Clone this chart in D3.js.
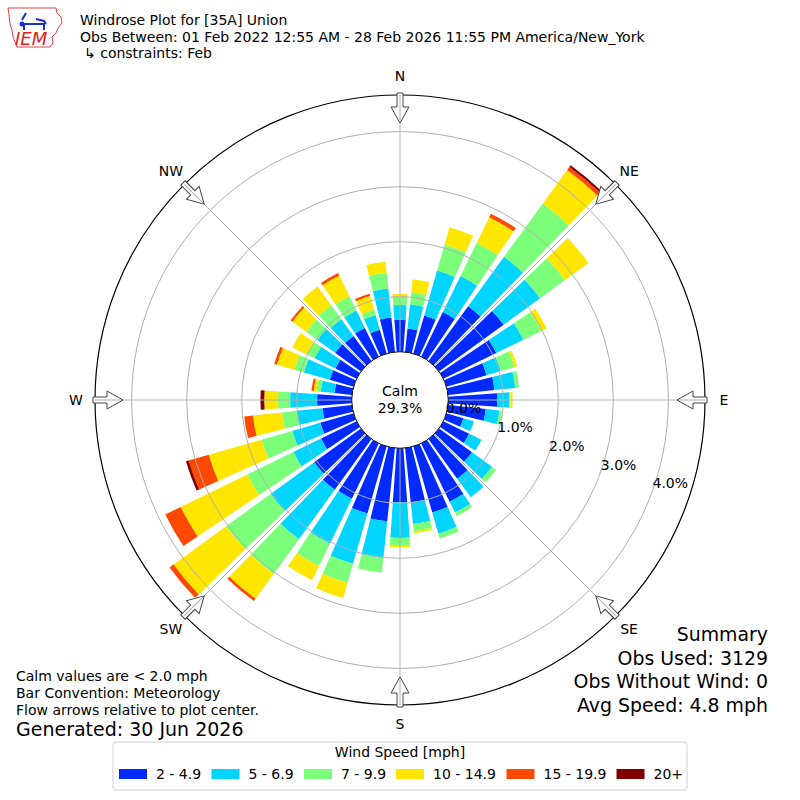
<!DOCTYPE html>
<html>
<head>
<meta charset="utf-8">
<script src="https://d3js.org/d3.v7.min.js"></script>
<style>
  body { margin: 0; background: #fff; }
  text { font-family: "DejaVu Sans", sans-serif; }
</style>
</head>
<body>
<div id="container"></div>
<script>
// wind directions (degrees, 10 degree sectors)
let directions = d3.range(0, 360, 10);

// speed bins
let speedBins = ["2 - 4.9", "5 - 6.9", "7 - 9.9", "10 - 14.9", "15 - 19.9", "20+"];
let binColors = ["#002aff", "#00d4ff", "#7bff7b", "#ffe600", "#ff4800", "#800000"];

// percent of observations per direction, one array per speed bin
let bin2to5 = [0.58, 0.43, 0.72, 0.90, 1.23, 1.45, 1.07, 0.76, 0.85, 0.89, 0.69, 0.32,
               0.52, 0.74, 0.89, 1.18, 1.25, 0.99, 0.98, 1.34, 1.27, 1.12, 1.14, 1.05,
               0.72, 0.63, 0.54, 0.63, 0.32, 0.45, 0.43, 0.58, 0.56, 0.58, 0.45, 0.63];
let bin5to7 = [0.27, 0.44, 0.85, 0.73, 1.11, 0.82, 0.55, 0.27, 0.38, 0.22, 0.25, 0.20,
               0.25, 0.45, 0.42, 0.22, 0.40, 0.40, 0.65, 0.67, 0.95, 0.91, 1.11, 0.98,
               0.56, 0.53, 0.47, 0.49, 0.25, 0.49, 0.42, 0.40, 0.38, 0.35, 0.28, 0.53];
let bin7to10 = [0.15, 0.22, 0.49, 0.67, 1.20, 0.56, 0.36, 0.26, 0.07, 0.02, 0.05, 0,
                0, 0.09, 0, 0.07, 0.09, 0.13, 0.13, 0.27, 0.36, 0.45, 0.78, 1.00,
                0.93, 0.58, 0.27, 0.22, 0.08, 0.18, 0.16, 0.25, 0.31, 0.29, 0.10, 0.29];
let bin10to15 = [0.05, 0.24, 0.33, 0.52, 0.75, 0.53, 0.11, 0.05, 0, 0.04, 0, 0,
                 0, 0, 0, 0, 0, 0.04, 0.04, 0, 0.29, 0.29, 0.56, 1.18,
                 1.35, 1.00, 0.53, 0.25, 0.05, 0.33, 0.29, 0.31, 0.42, 0.42, 0.26, 0.20];
let bin15to20 = [0, 0, 0, 0.07, 0.07, 0, 0, 0, 0, 0, 0, 0,
                 0, 0, 0, 0, 0, 0, 0, 0, 0, 0, 0.05, 0.09,
                 0.31, 0.38, 0.16, 0, 0.04, 0.05, 0, 0.04, 0, 0.05, 0.04, 0];
let bin20plus = [0, 0, 0, 0, 0.04, 0, 0, 0, 0, 0, 0, 0,
                 0, 0, 0, 0, 0, 0, 0, 0, 0, 0, 0, 0,
                 0, 0.05, 0, 0.07, 0, 0, 0, 0, 0, 0, 0, 0];
let series = [bin2to5, bin5to7, bin7to10, bin10to15, bin15to20, bin20plus];

let ringTicks = [0, 1, 2, 3, 4];
let compass = ["N", "NE", "E", "SE", "S", "SW", "W", "NW"];
let calmPct = "29.3%";

let titleLines = ["Windrose Plot for [35A] Union",
  "Obs Between: 01 Feb 2022 12:55 AM - 28 Feb 2026 11:55 PM America/New_York",
  "\u21b3 constraints: Feb"];
let noteLines = ["Calm values are < 2.0 mph", "Bar Convention: Meteorology",
  "Flow arrows relative to plot center."];
let summaryLines = ["Summary", "Obs Used: 3129", "Obs Without Wind: 0", "Avg Speed: 4.8 mph"];

let w = 800;
let h = 800;
let cx = 400, cy = 400;

let svg = d3.select("#container")
  .append("svg")
    .attr("width", w)
    .attr("height", h)
;

// radius scale, 0% sits on the calm circle
let r = d3.scaleLinear().domain([0, 4.667]).range([48.3, 305]);
let outerR = r(4.667);
let rad = d => d * Math.PI / 180;

let plot = svg.append("g").attr("transform", `translate(${cx},${cy})`);

// stack the bins
let stacked = directions.map(function(dir, i){
  let acc = 0;
  return series.map(function(s, k){
    let seg = {dir: dir, k: k, y0: acc, y1: acc + s[i]};
    acc += s[i];
    return seg;
  });
});

let arc = d3.arc()
  .innerRadius(d => r(d.y0))
  .outerRadius(d => r(d.y1))
  .startAngle(d => rad(d.dir - 4))
  .endAngle(d => rad(d.dir + 4))
;

plot.selectAll("g.bar")
  .data(stacked)
  .enter()
  .append("g")
    .attr("class", "bar")
  .selectAll("path")
  .data(d => d.filter(s => s.y1 > s.y0))
  .enter()
  .append("path")
    .attr("d", arc)
    .attr("fill", d => binColors[d.k])
;

// rings
plot.selectAll("circle.ring")
  .data(ringTicks.slice(1))
  .enter()
  .append("circle")
    .attr("r", d => r(d))
    .attr("fill", "none")
    .attr("stroke", "#b0b0b0")
    .attr("stroke-width", 1)
;

// spokes
plot.selectAll("line.spoke")
  .data(d3.range(0, 360, 45))
  .enter()
  .append("line")
    .attr("x1", 0).attr("y1", 0)
    .attr("x2", d => outerR * Math.sin(rad(d)))
    .attr("y2", d => -outerR * Math.cos(rad(d)))
    .attr("stroke", "#b0b0b0")
    .attr("stroke-width", 1)
;

// outer frame
plot.append("circle")
  .attr("r", outerR)
  .attr("fill", "none")
  .attr("stroke", "#000")
  .attr("stroke-width", 1.2)
;

// flow arrows pointing to the center
let arrowPath = "M-3,-307 L3,-307 L3,-293 L9,-293 L0,-277 L-9,-293 L-3,-293 Z";
plot.selectAll("path.arrow")
  .data(d3.range(0, 360, 45))
  .enter()
  .append("path")
    .attr("d", arrowPath)
    .attr("transform", d => `rotate(${d})`)
    .attr("fill", "#fff")
    .attr("stroke", "#444")
    .attr("stroke-width", 1)
;
plot.selectAll("line.arrowaxis")
  .data(d3.range(0, 360, 45))
  .enter()
  .append("line")
    .attr("x1", 0).attr("y1", -305)
    .attr("x2", 0).attr("y2", -279)
    .attr("transform", d => `rotate(${d})`)
    .attr("stroke", "#b0b0b0")
    .attr("stroke-width", 1)
;

// calm circle
plot.append("circle")
  .attr("r", r(0))
  .attr("fill", "#fff")
  .attr("stroke", "#000")
  .attr("stroke-width", 1)
;
plot.append("text")
  .attr("x", 0).attr("y", -4)
  .attr("text-anchor", "middle")
  .attr("font-size", 14)
  .text("Calm");
plot.append("text")
  .attr("x", 0).attr("y", 13)
  .attr("text-anchor", "middle")
  .attr("font-size", 14)
  .text(calmPct);

// ring labels
let la = rad(19.9);
plot.selectAll("text.rl")
  .data(ringTicks)
  .enter()
  .append("text")
    .attr("x", d => r(d) * Math.cos(la) + 18)
    .attr("y", d => r(d) * Math.sin(la) - 8 + 5)
    .attr("text-anchor", "middle")
    .attr("font-size", 14)
    .text(d => d.toFixed(1) + "%")
;

// compass labels
plot.selectAll("text.cmp")
  .data(compass)
  .enter()
  .append("text")
    .attr("x", (d, i) => 324 * Math.sin(rad(i * 45)))
    .attr("y", (d, i) => -324 * Math.cos(rad(i * 45)) + 5)
    .attr("text-anchor", "middle")
    .attr("font-size", 14)
    .text(d => d)
;

// title
svg.selectAll("text.title")
  .data(titleLines)
  .enter()
  .append("text")
    .attr("x", (d, i) => i == 2 ? 84 : 80)
    .attr("y", (d, i) => 25 + i * 16.5)
    .attr("font-size", 14)
    .text(d => d)
;

// logo
let logo = svg.append("g");
logo.append("path")
  .attr("d", "M8,8 L56,8 L57,13 L61,17 L62,23 L58,28 L56,33 L52,37 L53,43 L50,47 L17,47 L15,42 L13,37 L12,30 L10,24 L9,15 Z")
  .attr("fill", "#fff")
  .attr("stroke", "#d44")
  .attr("stroke-width", 1)
;
logo.append("text")
  .attr("x", 15).attr("y", 45)
  .attr("font-family", "Liberation Serif, DejaVu Serif, serif")
  .attr("font-style", "italic")
  .attr("font-size", 18)
  .attr("fill", "#d22")
  .text("IEM");
logo.append("path")
  .attr("d", "M20,24 L44,24 L44,30 M26,13 L22,20 M36,19 L44,21 L46,24 M24,24 L24,30")
  .attr("fill", "none")
  .attr("stroke", "#1a2fd0")
  .attr("stroke-width", 2)
;
logo.append("circle").attr("cx", 22).attr("cy", 24).attr("r", 2.5).attr("fill", "#1a2fd0");

// notes bottom left
svg.selectAll("text.note")
  .data(noteLines)
  .enter()
  .append("text")
    .attr("x", 16)
    .attr("y", (d, i) => 681 + i * 17)
    .attr("font-size", 14)
    .text(d => d)
;
svg.append("text")
  .attr("x", 16).attr("y", 736)
  .attr("font-size", 19)
  .text("Generated: 30 Jun 2026");

// summary bottom right
svg.selectAll("text.sum")
  .data(summaryLines)
  .enter()
  .append("text")
    .attr("x", 768)
    .attr("y", (d, i) => 641 + i * 23.7)
    .attr("text-anchor", "end")
    .attr("font-size", 18.9)
    .text(d => d)
;

// legend
let legend = svg.append("g");
legend.append("rect")
  .attr("x", 113).attr("y", 742)
  .attr("width", 574).attr("height", 48)
  .attr("rx", 3)
  .attr("fill", "#fff")
  .attr("stroke", "#d0d0d0")
;
legend.append("text")
  .attr("x", 400).attr("y", 757)
  .attr("text-anchor", "middle")
  .attr("font-size", 14)
  .text("Wind Speed [mph]");
let legX = [119, 211.5, 304, 396, 506.5, 616.5];
let items = legend.selectAll("g.item")
  .data(speedBins)
  .enter()
  .append("g")
    .attr("transform", (d, i) => `translate(${legX[i]},769)`)
;
items.append("rect")
  .attr("width", 28).attr("height", 10)
  .attr("fill", (d, i) => binColors[i]);
items.append("text")
  .attr("x", 37).attr("y", 10)
  .attr("font-size", 14)
  .text(d => d);
</script>
</body>
</html>
